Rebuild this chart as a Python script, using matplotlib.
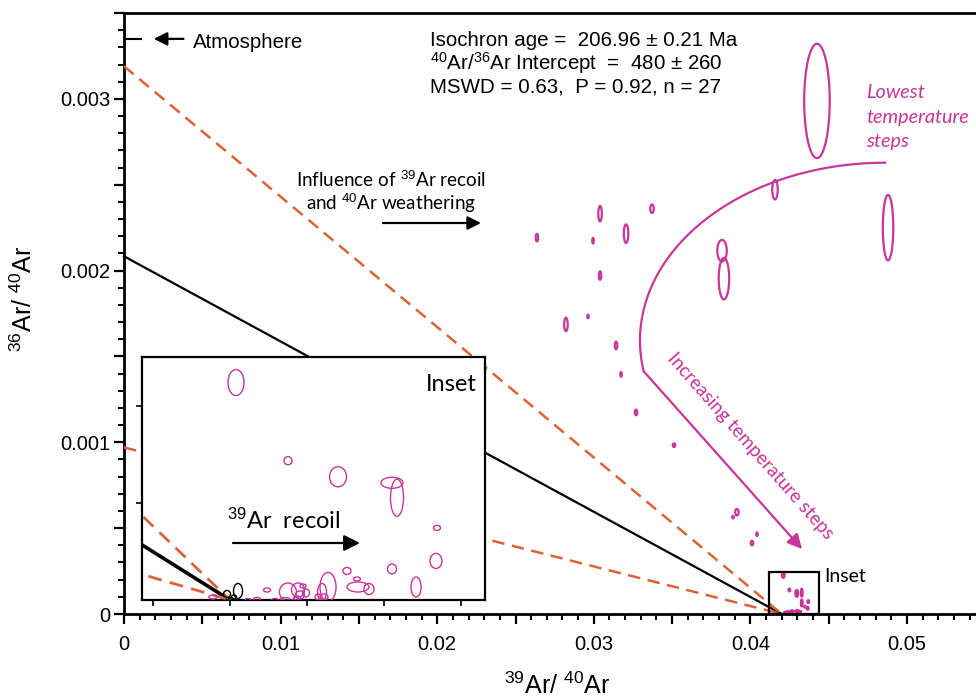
import matplotlib
matplotlib.use('Agg')
import matplotlib.pyplot as plt
from matplotlib.patches import Ellipse, Rectangle
from matplotlib.ticker import MultipleLocator, FuncFormatter, FixedLocator, NullFormatter
import numpy as np

plt.rcParams['font.family'] = ['Liberation Sans', 'DejaVu Sans']
plt.rcParams['mathtext.fontset'] = 'custom'
plt.rcParams['mathtext.rm'] = 'Liberation Sans'
plt.rcParams['mathtext.it'] = 'Liberation Sans:italic'
plt.rcParams['mathtext.bf'] = 'Liberation Sans:bold'

MAGENTA = '#C8359B'
ORANGE = '#DB6236'
MYRIAD = ['Lato', 'DejaVu Sans']

# ---------------- data ----------------
iso_y0 = 1 / 480.0          # 36Ar/40Ar intercept of isochron
iso_x0 = 0.0420             # 39Ar/40Ar intercept of isochron
env_upper_y0 = 0.00319      # error envelope (upper) intercept
env_lower_y0 = 0.00097      # error envelope (lower) intercept
atm_ratio = 1 / 298.56      # atmospheric 36Ar/40Ar

# main-plot ellipses (lowest temperature steps ... higher steps)
main_x = [0.04425, 0.04157, 0.04879, 0.03819, 0.03831, 0.0304, 0.03372, 0.03206, 0.02637,
          0.02995, 0.0304, 0.02822, 0.02963, 0.03142, 0.03174, 0.0327, 0.03512, 0.03914,
          0.03889, 0.04042, 0.0401]
main_y = [0.002988, 0.002471, 0.00225, 0.002116, 0.001953, 0.002331, 0.00236, 0.002215,
          0.002192, 0.002174, 0.001971, 0.001686, 0.001733, 0.001564, 0.001395, 0.001174,
          0.000983, 0.000593, 0.000564, 0.000465, 0.000413]
main_w = [0.00163, 0.000351, 0.00067, 0.000607, 0.00067, 0.000224, 0.000224, 0.000287,
          0.00016, 0.0000958, 0.00016, 0.000224, 0.0000958, 0.00016, 0.0000958, 0.00016,
          0.00016, 0.000224, 0.0000958, 0.0000958, 0.00016]
main_h = [0.000666, 0.000113, 0.000381, 0.000125, 0.000241, 0.0000901, 0.0000494, 0.000108,
          0.0000436, 0.000032, 0.0000494, 0.0000785, 0.0000203, 0.0000436, 0.0000262,
          0.000032, 0.0000203, 0.0000378, 0.0000145, 0.0000203, 0.0000262]

# small ellipses inside the "Inset" box of the main plot
box_x = [0.04210, 0.04249, 0.04296, 0.04328, 0.04328, 0.04370, 0.04366, 0.04349, 0.04266,
         0.04298, 0.04317, 0.04240, 0.04221]
box_y = [0.000227, 0.00014, 0.00012, 0.000124, 0.000064, 0.000072, 0.000033, 0.000042,
         0.000015, 0.000017, 0.000012, 0.000012, 0.000006]
box_w = [0.00016, 0.0000958, 0.00016, 0.0000958, 0.0000958, 0.0000958, 0.0000958, 0.0000958,
         0.000192, 0.000192, 0.000128, 0.000128, 0.000128]
box_h = [0.000032, 0.0000145, 0.0000378, 0.0000436, 0.0000378, 0.0000145, 0.0000145,
         0.0000087, 0.0000116, 0.0000116, 0.0000116, 0.0000116, 0.0000116]
box_x0, box_x1, box_ytop = 0.04118, 0.04438, 0.000244

# inset ellipses (magenta = recoil-affected steps)
inset_x = [0.042078, 0.042753, 0.043403, 0.044104, 0.044169, 0.044688, 0.044675, 0.044104,
           0.043519, 0.043649, 0.043662, 0.043805, 0.044416, 0.043273, 0.043195, 0.043221,
           0.043143, 0.042948, 0.042883, 0.042753, 0.042909, 0.042987, 0.042870, 0.042714,
           0.042481, 0.042584, 0.042351, 0.042234, 0.041779]
inset_y = [2.237e-4, 1.433e-4, 1.268e-4, 1.206e-4, 1.052e-4, 7.42e-5, 4.02e-5, 3.20e-5,
           2.99e-5, 2.16e-5, 1.34e-5, 1.13e-5, 1.34e-5, 1.34e-5, 8.2e-6, 3.1e-6, 3.1e-6,
           1.44e-5, 1.03e-5, 8.2e-6, 5.2e-6, 7.2e-6, 2.1e-6, 1.0e-6, 1.03e-5, 0.0, 1.0e-6,
           0.0, 3.1e-6]
inset_w = [2.08e-4, 1.04e-4, 2.21e-4, 2.86e-4, 1.69e-4, 9.1e-5, 1.56e-4, 1.17e-4, 1.04e-4,
           9.1e-5, 2.86e-4, 1.30e-4, 1.30e-4, 2.08e-4, 1.17e-4, 1.04e-4, 7.8e-5, 7.8e-5,
           1.69e-4, 2.21e-4, 1.17e-4, 9.1e-5, 9.1e-5, 1.17e-4, 9.1e-5, 9.1e-5, 9.1e-5, 7.8e-5,
           1.04e-4]
inset_h = [2.68e-5, 8.3e-6, 2.06e-5, 1.14e-5, 3.82e-5, 5.2e-6, 1.55e-5, 1.03e-5, 7.2e-6,
           4.1e-6, 1.03e-5, 1.14e-5, 2.06e-5, 2.99e-5, 1.76e-5, 6.2e-6, 6.2e-6, 4.1e-6,
           1.45e-5, 1.86e-5, 8.3e-6, 8.3e-6, 4.1e-6, 3.1e-6, 4.1e-6, 3.1e-6, 3.1e-6, 3.1e-6,
           4.1e-6]
# inset ellipses (black = plateau steps near the isochron intercept)
plat_x = [0.042104, 0.041961, 0.042052, 0.042013]
plat_y = [9.3e-6, 6.2e-6, 3.1e-6, 1.0e-6]
plat_w = [1.17e-4, 9.1e-5, 6.5e-5, 6.5e-5]
plat_h = [1.55e-5, 7.2e-6, 4.1e-6, 3.1e-6]

x_tick_labels = ['0', '0.01', '0.02', '0.03', '0.04', '0.05']
y_tick_labels = ['0', '0.001', '0.002', '0.003']

# ---------------- figure ----------------
W, H = 976, 699
fig = plt.figure(figsize=(W / 100, H / 100), dpi=100)


def fx(px):
    return px / W


def fy(py):
    return 1 - py / H


ax = fig.add_axes([124 / W, 85 / H, 852 / W, 601 / H])
ax.set_xlim(0, 852 / 15660)
ax.set_ylim(0, 0.0035)
for s in ['left', 'bottom', 'top']:
    ax.spines[s].set_linewidth(2)
ax.spines['right'].set_visible(False)

ax.xaxis.set_major_locator(MultipleLocator(0.005))
ax.xaxis.set_minor_locator(MultipleLocator(0.001))
ax.yaxis.set_major_locator(MultipleLocator(0.0005))
ax.yaxis.set_minor_locator(MultipleLocator(0.0001))


def xfmt(v, pos):
    k = v / 0.01
    if abs(k - round(k)) < 1e-6 and 0 <= round(k) < len(x_tick_labels):
        return x_tick_labels[int(round(k))]
    return ''


def yfmt(v, pos):
    k = v / 0.001
    if abs(k - round(k)) < 1e-6 and 0 <= round(k) < len(y_tick_labels):
        return y_tick_labels[int(round(k))]
    return ''


ax.xaxis.set_major_formatter(FuncFormatter(xfmt))
ax.yaxis.set_major_formatter(FuncFormatter(yfmt))
ax.tick_params(which='major', direction='out', length=7, width=1.6, labelsize=14.5)
ax.tick_params(which='minor', direction='out', length=4.5, width=1.4)
ax.tick_params(axis='x', which='major', pad=8)
ax.tick_params(axis='y', which='major', pad=3)

# isochron and envelope lines
lx = np.array([0.0, iso_x0])
ax.plot(lx, [iso_y0, 0], color='black', lw=1.6, zorder=3, clip_on=False)
ax.plot(lx, [env_upper_y0, 0], color=ORANGE, lw=1.8, ls=(0, (5, 3)), zorder=3)
ax.plot(lx, [env_lower_y0, 0], color=ORANGE, lw=1.8, ls=(0, (5, 3)), zorder=3)

# ellipses main
for x, y, w, h in zip(main_x, main_y, main_w, main_h):
    ax.add_patch(Ellipse((x, y), w, h, fill=False, ec=MAGENTA, lw=1.6, zorder=4))
for x, y, w, h in zip(box_x, box_y, box_w, box_h):
    ax.add_patch(Ellipse((x, y), w, h, fill=True, fc=MAGENTA, ec=MAGENTA, lw=1.8, zorder=4))
ax.add_patch(Rectangle((box_x0, 0), box_x1 - box_x0, box_ytop, fill=False, ec='black',
                       lw=1.6, zorder=5))

# atmosphere marker
ax.plot([0, 0.0011], [atm_ratio, atm_ratio], color='black', lw=1.5, zorder=5)
ax.annotate('', xy=(0.0019, atm_ratio), xytext=(0.0038, atm_ratio),
            arrowprops=dict(arrowstyle='-|>', color='black', lw=1.6, mutation_scale=20,
                            shrinkA=0, shrinkB=0))
fig.text(fx(193), fy(43), 'Atmosphere', fontsize=14.8, va='center', ha='left')

# isochron statistics
fig.text(fx(430), fy(40), 'Isochron age =  206.96 ± 0.21 Ma', fontsize=14.8, va='center')
fig.text(fx(430), fy(63), r'$^{40}$Ar/$^{36}$Ar Intercept  =  480 ± 260', fontsize=14.8,
         va='center')
fig.text(fx(430), fy(87), 'MSWD = 0.63,  P = 0.92, n = 27', fontsize=14.8, va='center')

# influence annotation
fig.text(fx(391), fy(180), r'Influence of $^{39}$Ar recoil', fontsize=13.6, ha='center',
         va='center', family=MYRIAD)
fig.text(fx(391), fy(203), r'and $^{40}$Ar weathering', fontsize=13.6, ha='center',
         va='center', family=MYRIAD)
ax.annotate('', xy=(fx(481), fy(223)), xytext=(fx(383), fy(223)),
            xycoords='figure fraction', textcoords='figure fraction',
            arrowprops=dict(arrowstyle='-|>', color='black', lw=1.6, mutation_scale=20,
                            shrinkA=0, shrinkB=0))

# temperature-step path
cx, cy, rx, ry = 0.0486, 0.001593, 0.01565, 0.001035
th = np.radians(np.linspace(90, 190, 120))
arc_x = cx + rx * np.cos(th)
arc_y = cy + ry * np.sin(th)
ax.plot(arc_x, arc_y, color=MAGENTA, lw=1.6, zorder=4)
ax.annotate('', xy=(0.0433, 0.000378), xytext=(arc_x[-1], arc_y[-1]),
            arrowprops=dict(arrowstyle='-|>', color=MAGENTA, lw=1.6, mutation_scale=22,
                            shrinkA=0, shrinkB=0))
for i, t in enumerate(['Lowest', 'temperature', 'steps']):
    fig.text(fx(866), fy(93 + 24.5 * i), t, fontsize=14.3, color=MAGENTA, style='italic',
             va='center', ha='left', family=MYRIAD)
fig.text(fx(750), fy(446), 'Increasing temperature steps', fontsize=13.6, color=MAGENTA,
         rotation=-48.6, rotation_mode='anchor', ha='center', va='center', family=MYRIAD)
fig.text(fx(824), fy(577), 'Inset', fontsize=14, va='center', ha='left', family=MYRIAD)

# axis titles
fig.text(fx(24), fy(299), r'$^{36}$Ar/ $^{40}$Ar', rotation=90, fontsize=18, ha='center',
         va='center')
fig.text(fx(557), fy(686), r'$^{39}$Ar/ $^{40}$Ar', fontsize=18, ha='center', va='center')

# ---------------- inset ----------------
axi = fig.add_axes([142 / W, 99 / H, 343 / W, 243 / H])
axi.set_facecolor('white')
axi.set_xlim(0.042 - 88 / 77000, 0.042 + 255 / 77000)
axi.set_ylim(0, 0.00025)
for s in axi.spines.values():
    s.set_linewidth(1.6)
axi.xaxis.set_major_locator(FixedLocator([0.041, 0.042, 0.043, 0.044, 0.045]))
axi.yaxis.set_major_locator(FixedLocator([0.0001, 0.0002]))
axi.xaxis.set_major_formatter(NullFormatter())
axi.yaxis.set_major_formatter(NullFormatter())
axi.tick_params(direction='out', length=4, width=1.2)

axi.plot(lx, [iso_y0, 0], color='black', lw=2.6, zorder=3)
axi.plot(lx, [env_upper_y0, 0], color=ORANGE, lw=2, ls=(0, (5, 3)), zorder=3)
axi.plot(lx, [env_lower_y0, 0], color=ORANGE, lw=2, ls=(0, (5, 3)), zorder=3)
for x, y, w, h in zip(inset_x, inset_y, inset_w, inset_h):
    axi.add_patch(Ellipse((x, y), w, h, fill=False, ec=MAGENTA, lw=1.0, zorder=4))
for x, y, w, h in zip(plat_x, plat_y, plat_w, plat_h):
    axi.add_patch(Ellipse((x, y), w, h, fill=False, ec='black', lw=1.0, zorder=4))

axi.text(0.975, 0.885, 'Inset', transform=axi.transAxes, fontsize=17, ha='right',
         va='center', family=MYRIAD)
axi.text(fx(284), fy(520), r'$^{39}$Ar  recoil', transform=fig.transFigure, fontsize=17,
         ha='center', va='center', family=MYRIAD)
axi.annotate('', xy=(fx(360), fy(543)), xytext=(fx(233), fy(543)),
             xycoords='figure fraction', textcoords='figure fraction',
             arrowprops=dict(arrowstyle='-|>', color='black', lw=1.6, mutation_scale=24,
                             shrinkA=0, shrinkB=0))

fig.savefig('out.png', dpi=100)
